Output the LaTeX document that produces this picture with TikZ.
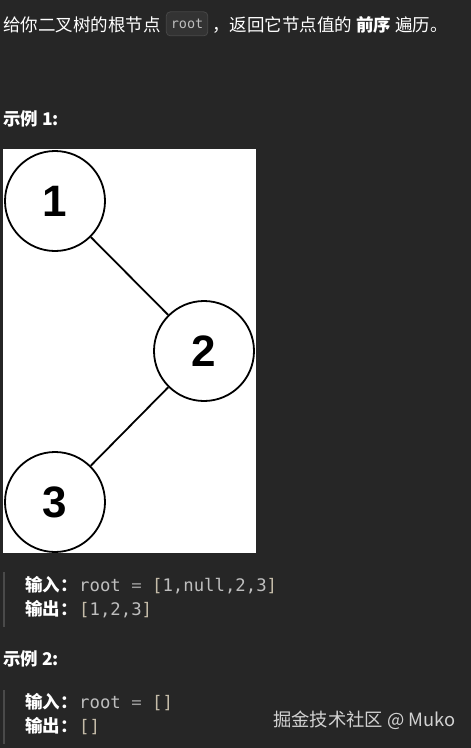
\documentclass[tikz,border=0pt]{standalone}
\usepackage{fontspec}
\setmainfont{Noto Sans CJK SC}
\setmonofont{DejaVu Sans Mono}
\newfontfamily\digitfont{Liberation Sans}
\usetikzlibrary{positioning}

\definecolor{pagebg}{HTML}{262626}
\definecolor{chipbg}{HTML}{333333}
\definecolor{chipline}{HTML}{474747}
\definecolor{codegray}{HTML}{BEBEBE}
\definecolor{opgray}{HTML}{9C9C9C}
\definecolor{brackettan}{HTML}{C4BBA8}
\definecolor{quotebar}{HTML}{4A4A4A}
\definecolor{markgray}{HTML}{D2D2D2}

\newcommand{\opsym}[1]{\textcolor{opgray}{#1}}
\newcommand{\brk}[1]{\textcolor{brackettan}{#1}}

\tikzset{
  txt/.style={inner sep=0pt, text=white, font=\fontsize{17.5}{20}\selectfont},
  bold txt/.style={txt, font=\fontsize{17.5}{20}\selectfont\bfseries},
  code/.style={inner sep=0pt, text=codegray, font=\fontsize{17.3}{20}\selectfont\ttfamily},
  chip/.style={draw=chipline, fill=chipbg, rounded corners=4pt, text=codegray,
    font=\fontsize{13.5}{16}\selectfont\ttfamily, inner xsep=4.5pt,
    minimum height=24pt, line width=0.8pt},
  treenode/.style={circle, draw=black, line width=1.8pt, minimum size=100pt,
    inner sep=0pt, font=\digitfont\bfseries\fontsize{44}{44}\selectfont},
  treeedge/.style={draw=black, line width=1.8pt},
  bar/.style={quotebar, line width=2pt}
}

\begin{document}
\begin{tikzpicture}[x=1pt, y=-1pt]
  \useasboundingbox (0,0) rectangle (471,748);
  \fill[pagebg] (0,0) rectangle (471,748);

  % question
  \node[txt, anchor=base west] (intro) at (3,31) {给你二叉树的根节点};
  \node[chip, right=5pt of intro.east, anchor=west, yshift=0.5pt] (rootchip) {root};
  \node[txt, anchor=base west] (introrest) at (212,31) {，返回它节点值的 \textbf{前序} 遍历。};

  % example 1
  \node[bold txt, anchor=base west] (ex1) at (3,125) {示例 1:};
  \fill[white] (3,149) rectangle (256,553);
  \node[treenode] (n1) at (55,201) {1};
  \node[treenode] (n2) at (204,351) {2};
  \node[treenode] (n3) at (55,502) {3};
  \draw[treeedge] (n1) -- (n2);
  \draw[treeedge] (n2) -- (n3);

  \draw[bar] (4,572) -- (4,627);
  \node[bold txt, anchor=base west] (in1) at (25,591) {输入：};
  \node[code, anchor=base west] (in1code) at (79,591) {root \opsym{=} \brk{[}1,null,2,3\brk{]}};
  \node[bold txt, anchor=base west] (out1) at (25,615) {输出：};
  \node[code, anchor=base west] (out1code) at (79,615) {\brk{[}1,2,3\brk{]}};

  % example 2
  \node[bold txt, anchor=base west] (ex2) at (3,665) {示例 2:};
  \draw[bar] (4,690) -- (4,744);
  \node[bold txt, anchor=base west] (in2) at (25,708) {输入：};
  \node[code, anchor=base west] (in2code) at (79,708) {root \opsym{=} \brk{[]}};
  \node[bold txt, anchor=base west] (out2) at (25,732) {输出：};
  \node[code, anchor=base west] (out2code) at (79,732) {\brk{[]}};

  \node[txt, text=markgray, font=\fontsize{18.3}{20}\selectfont, anchor=base west] (mark) at (273,726) {掘金技术社区 @ Muko};
\end{tikzpicture}
\end{document}
